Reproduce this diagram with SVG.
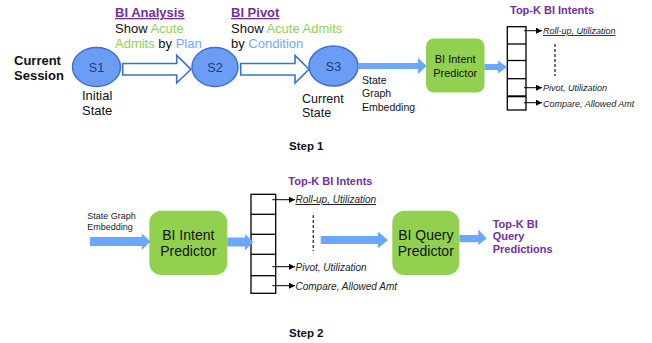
<svg xmlns="http://www.w3.org/2000/svg" width="652" height="343" viewBox="0 0 652 343">
<defs>
<style>
text{font-family:"Liberation Sans",Arial,sans-serif;}
.state{fill:#6C9DF5;stroke:#3F6FD0;stroke-width:1.5;}
.sl{font-size:12.5px;fill:#1F3A80;text-anchor:middle;}
.hollow{fill:#fff;stroke:#3F6FD0;stroke-width:1.6;}
.flow{fill:#6BA6FF;}
.green{fill:#92D050;}
.lbl{font-size:13px;fill:#111;}
.b{font-weight:bold;}
.purple{fill:#7030A0;font-weight:bold;}
.lg{fill:#92D050;}
.lb{fill:#6FA8FF;}
.it{font-style:italic;fill:#222;}
.list{fill:#fff;stroke:#000;stroke-width:1.3;}
.row{stroke:#000;stroke-width:1.3;}
.ptr{stroke:#000;stroke-width:1;marker-end:url(#ah);}
.dash{stroke:#444;stroke-width:1.5;stroke-dasharray:3 2;}
</style>
<marker id="ah" viewBox="0 0 10 10" refX="10" refY="5" markerWidth="6" markerHeight="6" markerUnits="userSpaceOnUse" orient="auto">
<path d="M0,0 L10,5 L0,10 z" fill="#000"/>
</marker>
</defs>

<!-- Step 1 labels -->
<g id="session-label">
<text class="lbl b" x="14" y="65">Current</text>
<text class="lbl b" x="14" y="80">Session</text>
</g>

<g id="s1">
<ellipse class="state" cx="96.5" cy="67" rx="24" ry="19.5"/>
<text class="sl" x="96.5" y="71.5">S1</text>
<text class="lbl" x="82" y="100">Initial</text>
<text class="lbl" x="82" y="115">State</text>
</g>

<g id="s2">
<ellipse class="state" cx="215" cy="67" rx="23" ry="19.5"/>
<text class="sl" x="215" y="71.5">S2</text>
</g>

<g id="s3">
<ellipse class="state" cx="333.5" cy="66" rx="24.5" ry="20"/>
<text class="sl" x="333.5" y="70.5">S3</text>
<text class="lbl" x="302" y="103" style="font-size:12.5px">Current</text>
<text class="lbl" x="302" y="117" style="font-size:12.5px">State</text>
</g>

<g id="analysis-label">
<text class="lbl purple" x="115" y="17" text-decoration="underline">BI Analysis</text>
<text class="lbl" x="115" y="32.5">Show <tspan class="lg">Acute</tspan></text>
<text class="lbl" x="115" y="48"><tspan class="lg">Admits</tspan> by <tspan class="lb">Plan</tspan></text>
</g>

<g id="pivot-label">
<text class="lbl purple" x="231" y="17" text-decoration="underline">BI Pivot</text>
<text class="lbl" x="231" y="32.5">Show <tspan class="lg">Acute Admits</tspan></text>
<text class="lbl" x="231" y="48">by <tspan class="lb">Condition</tspan></text>
</g>

<g id="sge-label-1">
<text x="362" y="83.5" style="font-size:10.5px" fill="#111">State</text>
<text x="362" y="97" style="font-size:10.5px" fill="#111">Graph</text>
<text x="362" y="110.5" style="font-size:10.5px" fill="#111">Embedding</text>
</g>

<g id="intent-predictor-1">
<rect class="green" x="426" y="38.5" width="58.5" height="54" rx="8"/>
<text x="455.2" y="63" text-anchor="middle" style="font-size:11px" fill="#111">BI Intent</text>
<text x="455.2" y="76.5" text-anchor="middle" style="font-size:11px" fill="#111">Predictor</text>
</g>

<g id="intents-list-1">
<text class="purple" x="510" y="13.5" style="font-size:11px">Top-K BI Intents</text>
<rect class="list" x="507.3" y="26.7" width="18.7" height="83.3"/>
<line class="row" x1="507.3" y1="44" x2="526" y2="44"/>
<line class="row" x1="507.3" y1="60.5" x2="526" y2="60.5"/>
<line class="row" x1="507.3" y1="78.7" x2="526" y2="78.7"/>
<line class="row" x1="507.3" y1="96.3" x2="526" y2="96.3" style="stroke-width:2"/>
<line class="ptr" x1="524" y1="30.7" x2="542" y2="30.7"/>
<line class="ptr" x1="524" y1="87.7" x2="542" y2="87.7"/>
<line class="ptr" x1="524" y1="102.7" x2="542" y2="102.7"/>
<text class="it" x="543" y="34" style="font-size:9px" text-decoration="underline">Roll-up, Utilization</text>
<line class="dash" x1="555" y1="44" x2="555" y2="76"/>
<text class="it" x="543" y="91" style="font-size:9px">Pivot, Utilization</text>
<text class="it" x="543" y="106.5" style="font-size:9px">Compare, Allowed Amt</text>
</g>

<g id="step1"><text class="b" x="289" y="150" style="font-size:11.5px" fill="#111">Step 1</text></g>

<!-- Step 2 -->
<g id="sge-label-2">
<text x="87.3" y="218.5" style="font-size:9px" fill="#222">State Graph</text>
<text x="87.3" y="229.5" style="font-size:9px" fill="#222">Embedding</text>
</g>

<g id="intent-predictor-2">
<rect class="green" x="149.3" y="210.7" width="78" height="64.3" rx="12"/>
<text x="188.3" y="239.5" text-anchor="middle" style="font-size:14px" fill="#111">BI Intent</text>
<text x="188.3" y="255.5" text-anchor="middle" style="font-size:14px" fill="#111">Predictor</text>
</g>

<g id="intents-list-2">
<text class="purple" x="288.3" y="185" style="font-size:11px">Top-K BI Intents</text>
<rect class="list" x="251" y="194.3" width="24.7" height="99"/>
<line class="row" x1="251" y1="214.3" x2="275.7" y2="214.3"/>
<line class="row" x1="251" y1="234.3" x2="275.7" y2="234.3"/>
<line class="row" x1="251" y1="254.3" x2="275.7" y2="254.3"/>
<line class="row" x1="251" y1="275.7" x2="275.7" y2="275.7"/>
<line class="ptr" x1="272.3" y1="199.7" x2="295" y2="199.7"/>
<line class="ptr" x1="272.3" y1="266.7" x2="295" y2="266.7"/>
<line class="ptr" x1="272.3" y1="285.7" x2="295" y2="285.7"/>
<text class="it" x="295.5" y="203" style="font-size:10px" text-decoration="underline">Roll-up, Utilization</text>
<line class="dash" x1="313.3" y1="215" x2="313.3" y2="251"/>
<text class="it" x="295.5" y="270.5" style="font-size:10px">Pivot, Utilization</text>
<text class="it" x="295.5" y="289.5" style="font-size:10px">Compare, Allowed Amt</text>
</g>

<g id="query-predictor">
<rect class="green" x="392.3" y="210.7" width="67" height="64.3" rx="12"/>
<text x="425.8" y="240" text-anchor="middle" style="font-size:14px" fill="#111">BI Query</text>
<text x="425.8" y="255.5" text-anchor="middle" style="font-size:14px" fill="#111">Predictor</text>
</g>

<g id="query-output">
<text class="purple" x="492.7" y="227.5" style="font-size:11px">Top-K BI</text>
<text class="purple" x="492.7" y="240" style="font-size:11px">Query</text>
<text class="purple" x="492.7" y="252.5" style="font-size:11px">Predictions</text>
</g>

<g id="step2"><text class="b" x="289" y="337" style="font-size:11.5px" fill="#111">Step 2</text></g>

<!-- Connectors -->
<g id="connectors">
<path class="hollow" d="M122.7,63.5 L176.7,63.5 L176.7,55.5 L191,69.3 L176.7,83 L176.7,75 L122.7,75 Z"/>
<path class="hollow" d="M240.7,63.5 L295,63.5 L295,55.5 L309,69.3 L295,83 L295,75 L240.7,75 Z"/>
<polygon class="flow" points="358,63 418,63 418,58 426.7,66 418,74 418,69 358,69"/>
<polygon class="flow" points="484.5,64 498,64 498,60.5 507,67 498,73.5 498,70 484.5,70"/>
<polygon class="flow" points="90,237 141.7,237 141.7,233.3 150.7,241.5 141.7,250 141.7,246 90,246"/>
<polygon class="flow" points="227.3,237.5 245,237.5 245,234 253.3,242 245,250.5 245,246.5 227.3,246.5"/>
<polygon class="flow" points="320.7,236 378,236 378,231.7 388,240 378,248.3 378,244 320.7,244"/>
<polygon class="flow" points="459.5,235 478.3,235 478.3,229.5 486.7,238.5 478.3,245 478.3,242.3 459.5,242.3"/>
</g>
</svg>
